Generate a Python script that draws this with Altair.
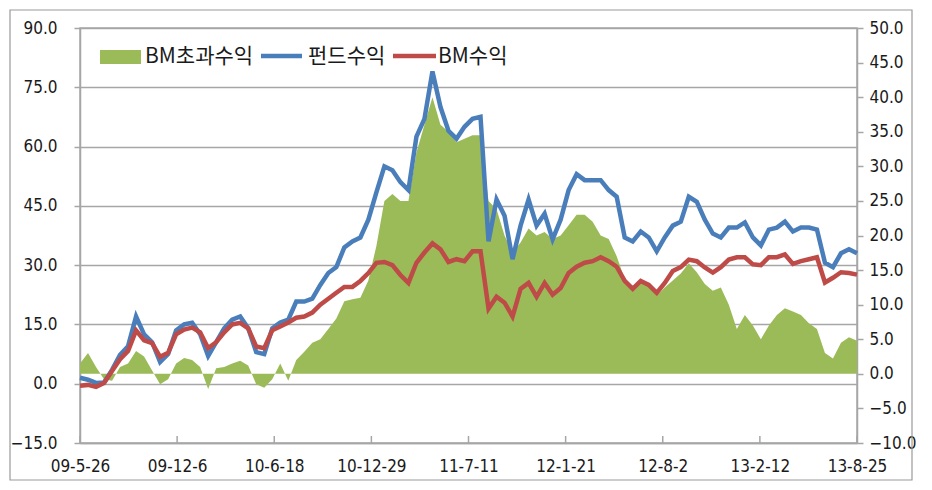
import altair as alt
import pandas as pd

start_date = "2009-05-26"
step_days = 16
series_names = ["BM초과수익", "펀드수익", "BM수익"]
fund = [1.5, 1.0, 0.2, 0.3, 3.5, 7.3, 9.5, 17.0, 12.5, 10.5,
        5.5, 7.5, 13.5, 15.0, 15.4, 12.5, 7.0, 10.5, 14.0, 16.2,
        17.0, 14.0, 8.0, 7.5, 14.0, 15.5, 16.2, 20.8, 20.8, 21.5,
        25.0, 28.0, 29.5, 34.5, 36.0, 37.0, 41.5, 48.4, 55.0, 54.0,
        51.0, 49.0, 62.5, 67.0, 79.0, 70.0, 64.0, 62.0, 65.0, 67.0,
        67.5, 36.0, 46.6, 42.5, 31.5, 40.0, 46.6, 40.0, 43.0, 36.5,
        41.5, 49.0, 53.0, 51.5, 51.5, 51.5, 49.0, 47.3, 37.0, 36.0,
        38.5, 37.0, 33.5, 37.0, 40.0, 41.0, 47.3, 46.0, 41.5, 38.0,
        37.0, 39.5, 39.5, 40.8, 37.0, 35.0, 39.0, 39.5, 41.0, 38.5,
        39.5, 39.5, 39.0, 30.6, 29.5, 33.0, 34.0, 33.0]
bm = [-0.5, -0.3, -0.8, 0.2, 3.2, 6.2, 8.3, 13.5, 11.0, 10.3,
      6.8, 7.8, 12.5, 13.7, 14.2, 13.0, 9.0, 10.5, 13.0, 15.0,
      15.4, 14.0, 9.4, 9.0, 13.5, 14.5, 15.5, 16.7, 17.0, 18.0,
      20.0, 21.5, 23.0, 24.5, 24.5, 26.0, 28.0, 30.6, 30.8, 30.0,
      27.5, 25.5, 30.6, 33.2, 35.5, 34.0, 30.8, 31.5, 31.0, 33.5,
      33.5, 19.0, 22.0, 20.5, 17.0, 24.0, 25.5, 22.0, 25.5, 22.5,
      24.2, 28.0, 29.6, 30.6, 31.0, 32.0, 31.0, 29.6, 26.0, 24.0,
      26.0, 25.0, 23.0, 25.5, 28.5, 29.5, 31.4, 31.0, 29.4, 28.1,
      29.5, 31.4, 32.0, 32.0, 30.2, 30.0, 32.0, 32.0, 32.7, 30.3,
      31.0, 31.5, 32.0, 25.6, 26.8, 28.2, 28.0, 27.6]
excess = [1.5, 3.0, 1.0, -0.8, -1.0, 1.0, 1.5, 3.3, 2.5, 0.5,
          -1.5, -0.8, 1.5, 2.3, 2.0, 1.0, -2.2, 0.8, 1.0, 1.5,
          1.9, 1.2, -1.5, -2.0, -0.8, 1.5, -1.0, 2.0, 3.2, 4.5,
          5.0, 6.5, 8.0, 10.5, 10.8, 11.0, 13.5, 18.5, 25.0, 26.0,
          25.0, 25.0, 32.0, 36.0, 40.0, 36.0, 35.0, 33.5, 34.0, 34.5,
          34.5, 25.0, 23.8, 20.0, 17.5, 19.0, 21.0, 20.0, 20.5, 19.5,
          20.0, 21.5, 23.0, 23.0, 22.0, 20.0, 19.5, 17.0, 13.7, 12.7,
          13.5, 13.0, 11.3, 12.5, 13.5, 14.5, 16.0, 14.7, 13.0, 12.0,
          12.5, 10.0, 6.5, 8.5, 7.0, 5.0, 7.0, 8.5, 9.5, 9.0,
          8.5, 7.3, 6.5, 3.0, 2.2, 4.5, 5.3, 4.8]
tick_dates = ["2009-05-26", "2009-12-06", "2010-06-18", "2010-12-29", "2011-07-11",
              "2012-01-21", "2012-08-02", "2013-02-12", "2013-08-25"]
left_ticks = [-15, 0, 15, 30, 45, 60, 75, 90]
right_ticks = [-10, -5, 0, 5, 10, 15, 20, 25, 30, 35, 40, 45, 50]

dates = pd.date_range(start_date, periods=len(fund), freq=f"{step_days}D").strftime("%Y-%m-%d")
df = pd.DataFrame({"date": dates, "fund": fund, "bm": bm, "excess": excess})
ticks_df = pd.DataFrame({"date": tick_dates})

GREEN, BLUE, RED = "#9BBB59", "#4A7EBB", "#BE4B48"
GRID = "#A6A6A6"
NUM_FONT = "Liberation Sans Narrow, DejaVu Sans Condensed, Arial"
KR_FONT = "Noto Sans CJK KR"

def dt(s):
    y, m, d = (int(p) for p in s.split("-"))
    return alt.DateTime(year=y, month=m, date=d, utc=True)

x_enc = alt.X(
    "date:T",
    title=None,
    scale=alt.Scale(type="utc", domain=[dt(tick_dates[0]), dt(tick_dates[-1])], nice=False),
    axis=alt.Axis(values=[dt(t) for t in tick_dates], format="%y-%-m-%-d",
                  ticks=False, tickSize=0, labelPadding=15, grid=False,
                  domainColor=GRID, domainWidth=1.5,
                  labelFont=NUM_FONT, labelFontSize=17, labelColor="#1a1a1a",
                  labelFlush=False, labelOverlap=False),
)

area = alt.Chart(df).mark_area(color=GREEN, opacity=1).encode(
    x=x_enc,
    y=alt.Y("excess:Q", title=None,
            scale=alt.Scale(domain=[-10, 50], nice=False, zero=False),
            axis=alt.Axis(orient="right", values=right_ticks, format=".1f", grid=False,
                          tickSize=6, tickColor=GRID, tickWidth=1.5,
                          domainColor=GRID, domainWidth=1.5, labelPadding=6,
                          labelFont=NUM_FONT, labelFontSize=17, labelColor="#1a1a1a")),
)

left_y = alt.Scale(domain=[-15, 90], nice=False, zero=False)
left_axis = alt.Axis(orient="left", values=left_ticks, format=".1f", grid=True,
                     gridColor=GRID, gridWidth=1.5, tickSize=6, tickColor=GRID, tickWidth=1.5,
                     domainColor=GRID, domainWidth=1.5, labelPadding=17,
                     labelFont=NUM_FONT, labelFontSize=17, labelColor="#1a1a1a")

blue_line = alt.Chart(df).mark_line(color=BLUE, strokeWidth=4.5).encode(
    x=x_enc, y=alt.Y("fund:Q", title=None, scale=left_y, axis=left_axis))
red_line = alt.Chart(df).mark_line(color=RED, strokeWidth=4.5).encode(
    x=x_enc, y=alt.Y("bm:Q", title=None, scale=left_y, axis=left_axis))
lines = alt.layer(blue_line, red_line)

x_ticks = alt.Chart(ticks_df).mark_rule(color=GRID, strokeWidth=1.5).encode(
    x=alt.X("date:T"), y=alt.value(415), y2=alt.value(408))

one = pd.DataFrame({"t": [0]})
frame = alt.Chart(one).mark_rect(fillOpacity=0, stroke="#9a9a9a", strokeWidth=1.2).encode(
    x=alt.value(-70), x2=alt.value(832), y=alt.value(-18), y2=alt.value(452))

leg_green = alt.Chart(one).mark_rect(color=GREEN).encode(
    x=alt.value(20), x2=alt.value(61), y=alt.value(22), y2=alt.value(36))
leg_blue = alt.Chart(one).mark_rule(color=BLUE, strokeWidth=4.5).encode(
    x=alt.value(181), x2=alt.value(222), y=alt.value(28))
leg_red = alt.Chart(one).mark_rule(color=RED, strokeWidth=4.5).encode(
    x=alt.value(313), x2=alt.value(356), y=alt.value(28))

def leg_text(name, xpos):
    return alt.Chart(pd.DataFrame({"t": [name]})).mark_text(
        align="left", baseline="middle", font=KR_FONT, fontSize=21, color="#1a1a1a"
    ).encode(x=alt.value(xpos), y=alt.value(29), text="t:N")

chart = alt.layer(
    area, lines, x_ticks, frame,
    leg_green, leg_text(series_names[0], 65),
    leg_blue, leg_text(series_names[1], 228),
    leg_red, leg_text(series_names[2], 358),
).resolve_scale(y="independent").properties(
    width=777, height=415,
    autosize="none",
    padding={"left": 72, "top": 20, "right": 66, "bottom": 39},
).configure_view(stroke=GRID, strokeWidth=1.5)

chart.save("out.html", embed_options={"renderer": "svg", "actions": False})
